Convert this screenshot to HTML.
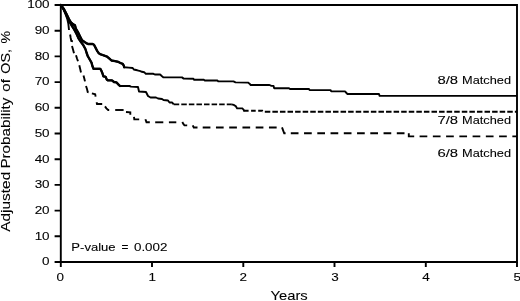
<!DOCTYPE html>
<html><head><meta charset="utf-8">
<style>
html,body{margin:0;padding:0;background:#fff;}
body{width:520px;height:301px;overflow:hidden;}
svg{display:block;will-change:transform;}
text{font-family:"Liberation Sans",sans-serif;fill:#000;stroke:#000;stroke-width:0.1px;}
.t11{font-size:11.8px;}
.t13{font-size:13.2px;}
</style></head>
<body>
<svg width="520" height="301" viewBox="0 0 520 301">
<g fill="none" stroke="#000" stroke-width="1.9" stroke-linecap="butt">
<path stroke-linejoin="miter" d="M60.8,5 H517 V262 H60.8 Z"/>
<path d="M54.6,5H60.8 M54.6,30.7H60.8 M54.6,56.4H60.8 M54.6,82.1H60.8 M54.6,107.8H60.8 M54.6,133.5H60.8 M54.6,159.2H60.8 M54.6,184.9H60.8 M54.6,210.6H60.8 M54.6,236.3H60.8 M54.6,262H60.8"/>
<path d="M60.8,262V267 M152,262V267 M243.3,262V267 M334.5,262V267 M425.8,262V267 M517,262V267"/>
<path stroke-linejoin="round" d="M60.8,5.0 L63.9,9.0 L66.5,14.0 L68.9,19.0 L70.9,22.3 L73.2,24.4 L75.0,25.4 L75.8,28.5 L77.9,32.0 L80.0,36.3 L82.0,40.2 L84.6,42.0 L86.8,43.4 L88.0,44.0 L92.6,44.0 L94.0,44.8 L95.5,47.6 L97.1,50.8 L98.7,53.2 L100.8,54.4 L104.0,55.5 L107.1,56.7 L109.5,58.7 L111.5,60.5 L115.0,61.1 L118.1,61.8 L120.4,63.0 L122.7,63.8 L123.8,65.7 L124.2,67.2 L128.8,67.6 L132.7,68.0 L133.8,69.5 L137.3,70.3 L140.4,71.1 L141.9,71.8 L144.2,72.2 L145.8,73.8 L153.4,73.8 L154.8,74.5 L160.1,74.5 L162.0,76.2 L163.5,77.4 L182.0,77.4 L183.7,78.6 L193.4,78.7 L193.9,79.7 L204.0,79.7 L204.6,80.5 L217.5,80.5 L218.2,81.4 L233.5,81.4 L235.5,82.4 L248.0,82.6 L249.5,83.7 L250.7,85.0 L269.5,85.0 L271.0,85.7 L273.5,85.9 L274.2,88.2 L289.0,88.3 L290.0,89.0 L309.0,89.0 L309.6,90.1 L330.5,90.1 L331.2,91.3 L345.0,91.4 L346.5,93.0 L347.5,94.0 L379.0,94.0 L379.6,95.9 L517.0,95.9"/>
<path stroke-linejoin="round" d="M60.8,5.0 L63.5,9.0 L66.0,14.0 L68.1,19.0 L69.7,22.0 L71.4,25.0 L73.6,28.5 L75.0,31.0 L76.4,33.6 L78.5,38.3 L80.8,41.8 L83.2,45.0 L85.4,49.0 L86.5,52.5 L87.7,56.0 L90.0,60.0 L91.5,62.6 L92.4,66.0 L93.5,68.8 L100.3,68.8 L101.5,71.0 L102.4,73.2 L103.4,76.3 L105.6,76.8 L106.8,79.6 L108.0,80.4 L112.0,80.4 L114.0,82.0 L116.4,82.4 L118.8,84.8 L120.0,86.0 L129.5,86.0 L131.0,86.6 L138.0,87.0 L139.0,91.5 L146.0,92.0 L148.0,96.0 L150.5,97.5 L156.0,97.5 L158.0,98.5 L162.0,99.0 L163.5,100.0 L168.0,100.5 L169.5,102.5 L172.2,102.5 L173.7,104.4"/>
<path stroke-linejoin="round" stroke-linecap="round" stroke-width="2.35" d="M60.8,5.0 L63.9,9.0 L66.5,14.0 L68.9,19.0 L70.9,22.3 L73.2,24.4 L75.0,25.4 L75.8,28.5 L77.9,32.0 L80.0,36.3 L82.0,40.2 L84.6,42.0 L86.8,43.4 L88.0,44.0 L92.6,44.0 L94.0,44.8 L95.5,47.6 L97.1,50.8 L98.7,53.2 L100.8,54.4 L104.0,55.5 L107.1,56.7 L109.5,58.7 L111.5,60.5 L115.0,61.1 L118.1,61.8 L120.4,63.0 L122.7,63.8 L123.8,65.7 L124.2,67.2"/>
<path stroke-linejoin="round" stroke-linecap="round" stroke-width="2.35" d="M60.8,5.0 L63.5,9.0 L66.0,14.0 L68.1,19.0 L69.7,22.0 L71.4,25.0 L73.6,28.5 L75.0,31.0 L76.4,33.6 L78.5,38.3 L80.8,41.8 L83.2,45.0 L85.4,49.0 L86.5,52.5 L87.7,56.0 L90.0,60.0 L91.5,62.6 L92.4,66.0 L93.5,68.8 L100.3,68.8 L101.5,71.0 L102.4,73.2 L103.4,76.3 L105.6,76.8 L106.8,79.6 L108.0,80.4 L112.0,80.4 L114.0,82.0 L116.4,82.4 L118.8,84.8 L120.0,86.0"/>
<path stroke-linejoin="miter" stroke-dasharray="5.5 2.08" d="M173.7,104.4 L231.6,104.4"/>
<path stroke-linejoin="miter" d="M231.4,104.4 L233.7,104.9 L235.8,106.2 L237.1,108.4 L242.3,108.4 L243.6,109.7 L244.0,110.8 L244.3,110.8"/>
<path stroke-linejoin="miter" stroke-dasharray="4.6 2.5" d="M244.0,110.8 L262.2,110.8 L262.6,111.7"/>
<path stroke-dasharray="5.5 2.077" stroke-dashoffset="5.377" d="M262.6,111.7 L517.0,111.7"/>
<path stroke-linejoin="miter" d="M60.8,5.0 L63.3,9.0 L65.4,14.0 L67.3,19.0 L68.3,23.5 L69.0,30.0"/>
<path stroke-linejoin="miter" d="M70.1,34.5 L70.7,38.0 L71.3,41.0 L72.9,41.2"/>
<path stroke-linejoin="miter" d="M72.0,46.0 L73.0,49.5 L74.0,53.3"/>
<path stroke-linejoin="miter" d="M76.0,55.3 L77.0,58.5 L78.0,61.3"/>
<path stroke-linejoin="miter" d="M79.3,65.3 L80.2,69.0 L81.0,72.5"/>
<path stroke-linejoin="miter" d="M83.5,75.5 L84.3,78.5 L85.0,81.4"/>
<path stroke-linejoin="miter" d="M86.0,86.0 L87.0,89.0 L87.7,92.0 L88.6,92.2"/>
<path stroke-linejoin="miter" d="M91.9,93.3 L95.2,94.3 L95.6,96.6"/>
<path stroke-linejoin="miter" d="M96.6,102.2 L97.0,104.0 L102.2,104.0"/>
<path stroke-linejoin="miter" d="M105.0,106.4 L106.4,108.4 L108.2,110.0 L109.2,110.0"/>
<path stroke-linejoin="miter" d="M115.2,110.0 L123.6,110.0"/>
<path stroke-linejoin="miter" d="M126.0,112.0 L130.3,112.4 L130.3,114.8"/>
<path stroke-linejoin="miter" d="M134.0,116.8 L134.3,119.4 L139.2,119.4"/>
<path stroke-linejoin="miter" d="M145.4,119.2 L146.5,122.3 L149.8,122.3"/>
<path stroke-linejoin="miter" d="M155.2,122.3 L163.3,122.3"/>
<path stroke-linejoin="miter" d="M168.9,122.3 L176.3,122.3"/>
<path stroke-linejoin="miter" d="M182.3,122.0 L183.5,124.2 L184.5,125.3 L187.2,125.4"/>
<path stroke-linejoin="miter" d="M192.7,125.3 L193.8,127.5 L197.5,127.5"/>
<path stroke-linejoin="miter" d="M282.0,127.4 L284.2,133.3 L285.6,133.3"/>
<path stroke-linejoin="miter" d="M408.8,133.3 L408.8,136.4 L414.2,136.4"/>
<path stroke-dasharray="7.7 5.55" d="M202.7,127.5 H282.0"/>
<path stroke-dasharray="7.7 5.55" d="M290.8,133.3 H408.8"/>
<path stroke-dasharray="7.7 5.55" d="M419.6,136.4 H517.0"/>
</g>
<g class="t11" text-anchor="end">
<text transform="translate(49.6,8.3) scale(1.14,1)">100</text>
<text transform="translate(49.6,34.0) scale(1.14,1)">90</text>
<text transform="translate(49.6,59.7) scale(1.14,1)">80</text>
<text transform="translate(49.6,85.4) scale(1.14,1)">70</text>
<text transform="translate(49.6,111.1) scale(1.14,1)">60</text>
<text transform="translate(49.6,136.8) scale(1.14,1)">50</text>
<text transform="translate(49.6,162.5) scale(1.14,1)">40</text>
<text transform="translate(49.6,188.2) scale(1.14,1)">30</text>
<text transform="translate(49.6,213.9) scale(1.14,1)">20</text>
<text transform="translate(49.6,239.6) scale(1.14,1)">10</text>
<text transform="translate(49.6,265.3) scale(1.14,1)">0</text>
</g>
<g class="t11" text-anchor="middle">
<text transform="translate(60.3,280.7) scale(1.14,1)">0</text>
<text transform="translate(152.2,280.7) scale(1.14,1)">1</text>
<text transform="translate(243.3,280.7) scale(1.14,1)">2</text>
<text transform="translate(335,280.7) scale(1.14,1)">3</text>
<text transform="translate(426,280.7) scale(1.14,1)">4</text>
<text transform="translate(517.3,280.7) scale(1.14,1)">5</text>
</g>
<text id="years" class="t13" x="270.50" y="300.2" textLength="37.22" lengthAdjust="spacingAndGlyphs">Years</text>
<text id="pv1" class="t11" x="71.36" y="251.2" textLength="44.25" lengthAdjust="spacingAndGlyphs">P-value</text>
<text id="pv2" class="t11" x="121.61" y="251.2" textLength="6.87" lengthAdjust="spacingAndGlyphs">=</text>
<text id="pv3" class="t11" x="133.97" y="251.2" textLength="33.46" lengthAdjust="spacingAndGlyphs">0.002</text>
<text id="l0a" class="t11" x="437.48" y="83.7" textLength="20.64" lengthAdjust="spacingAndGlyphs">8/8</text>
<text id="l0b" class="t11" x="462.09" y="83.7" textLength="48.93" lengthAdjust="spacingAndGlyphs">Matched</text>
<text id="l1a" class="t11" x="437.48" y="124.3" textLength="20.64" lengthAdjust="spacingAndGlyphs">7/8</text>
<text id="l1b" class="t11" x="462.09" y="124.3" textLength="48.93" lengthAdjust="spacingAndGlyphs">Matched</text>
<text id="l2a" class="t11" x="437.48" y="157.1" textLength="20.64" lengthAdjust="spacingAndGlyphs">6/8</text>
<text id="l2b" class="t11" x="462.09" y="157.1" textLength="48.93" lengthAdjust="spacingAndGlyphs">Matched</text>
<text id="v1" class="t13" transform="translate(10.1,231.81) rotate(-90)" x="0" y="0" textLength="60.03" lengthAdjust="spacingAndGlyphs">Adjusted</text>
<text id="v2" class="t13" transform="translate(10.1,168.60) rotate(-90)" x="0" y="0" textLength="71.00" lengthAdjust="spacingAndGlyphs">Probability</text>
<text id="v3" class="t13" transform="translate(10.1,91.73) rotate(-90)" x="0" y="0" textLength="12.66" lengthAdjust="spacingAndGlyphs">of</text>
<text id="v4" class="t13" transform="translate(10.1,73.65) rotate(-90)" x="0" y="0" textLength="24.55" lengthAdjust="spacingAndGlyphs">OS,</text>
<text id="v5" class="t13" transform="translate(10.1,43.50) rotate(-90)" x="0" y="0" textLength="12.59" lengthAdjust="spacingAndGlyphs">%</text>
</svg>
</body></html>
